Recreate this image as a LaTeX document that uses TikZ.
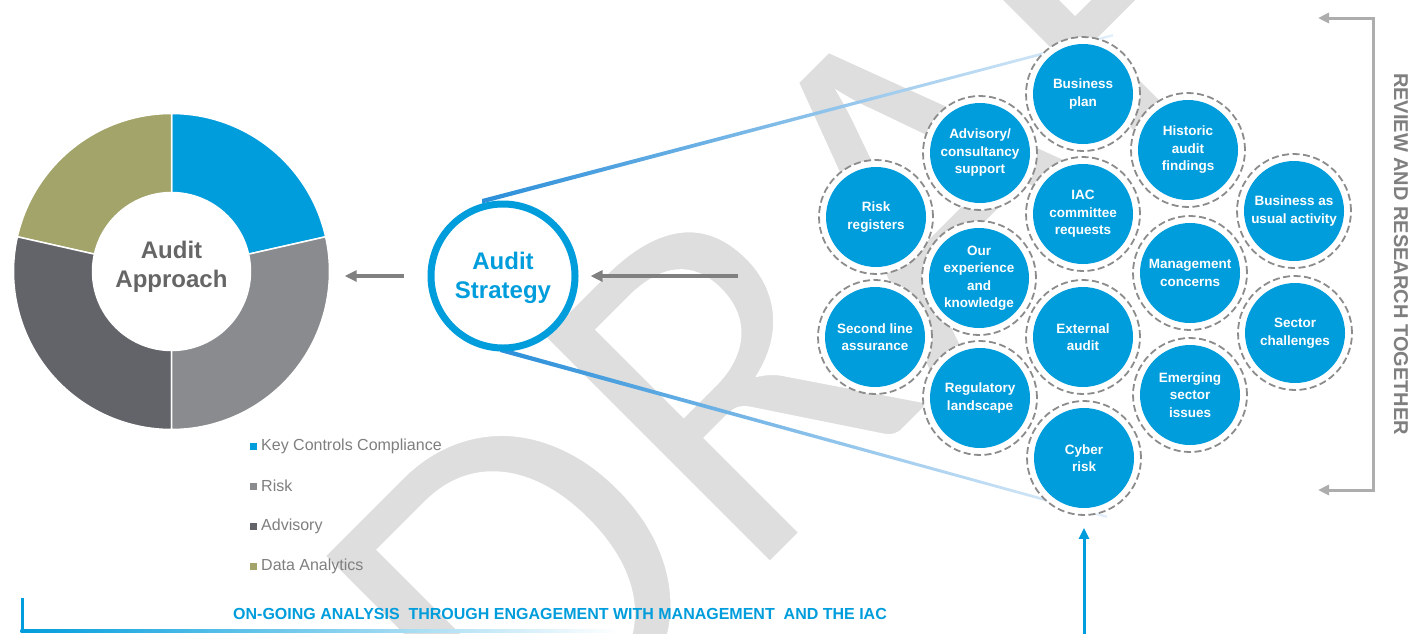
\documentclass[tikz,border=0pt]{standalone}
\usepackage{fontspec}
\setmainfont{Liberation Sans}
\newfontfamily\wmfont{Carlito}
\usetikzlibrary{arrows.meta}
\definecolor{ablue}{HTML}{009DDC}
\definecolor{olivec}{HTML}{A2A46A}
\definecolor{midgray}{HTML}{898B8E}
\definecolor{darkgrayc}{HTML}{626469}
\definecolor{wmgray}{HTML}{DEDEDE}
\definecolor{arrowgray}{HTML}{808080}
\definecolor{brgray}{HTML}{ADADAD}
\definecolor{txtgray}{HTML}{7F7F7F}
\definecolor{ringgray}{HTML}{8C8C8C}
\definecolor{lineblue}{HTML}{2B8FD9}
\definecolor{paleblue}{HTML}{E3EFFA}
\definecolor{apptext}{HTML}{666666}
\begin{document}
\begin{tikzpicture}[x=1pt,y=-1pt,
  wm/.style={anchor=base west, rotate=45, inner sep=0pt, text=wmgray, font=\wmfont\fontsize{502}{502}\selectfont},
  seg/.style={draw=white, line width=1.5pt},
  garrow/.style={draw=arrowgray, line width=3.5pt, -{Triangle[length=12pt,width=11pt]}},
  barrow/.style={draw=ablue, line width=3pt, -{Triangle[length=11pt,width=10pt]}},
  bracket/.style={draw=brgray, line width=3pt, {Triangle[length=11pt,width=10pt]}-{Triangle[length=11pt,width=10pt]}},
  topic/.style={circle, minimum size=114pt, inner sep=0pt, fill=white, draw=ringgray,
    dash pattern=on 7pt off 3.5pt, line width=1.8pt,
    path picture={\fill[ablue] (path picture bounding box.center) circle[radius=50pt];},
    text=white, align=center, font=\bfseries\fontsize{13.5}{17.5}\selectfont},
  bigtxt/.style={align=center, font=\bfseries\fontsize{24}{29.5}\selectfont},
  legsq/.style={minimum size=7pt, inner sep=0pt, draw=none},
  legtxt/.style={anchor=west, inner sep=0pt, text=txtgray, font=\fontsize{16}{19}\selectfont}
]
\useasboundingbox (0,0) rectangle (1410,633);
\fill[white] (0,0) rectangle (1410,633);
% watermark
\begin{scope}
\clip (0,0) rectangle (1410,633);
\node[wm] (draft) at (526,808) {\special{pdf:literal direct q 1 G 2 Tr 5 w}DRAFT\special{pdf:literal direct Q}};
\end{scope}

% donut chart
\begin{scope}[shift={(171.5,271.5)}, yscale=-1]
\path[seg, fill=ablue] (12.7:158) arc[start angle=12.7,end angle=90,radius=158] -- (90:79) arc[start angle=90,end angle=12.7,radius=79] -- cycle;
\path[seg, fill=olivec] (90:158) arc[start angle=90,end angle=167.3,radius=158] -- (167.3:79) arc[start angle=167.3,end angle=90,radius=79] -- cycle;
\path[seg, fill=darkgrayc] (167.3:158) arc[start angle=167.3,end angle=270,radius=158] -- (270:79) arc[start angle=270,end angle=167.3,radius=79] -- cycle;
\path[seg, fill=midgray] (270:158) arc[start angle=270,end angle=372.7,radius=158] -- (372.7:79) arc[start angle=372.7,end angle=270,radius=79] -- cycle;
\end{scope}
\node[circle, minimum size=316pt, inner sep=0pt] (donut) at (171.5,271.5) {};
\node[bigtxt, text=apptext] (approach) at (171.5,267) {Audit\\Approach};

% legend
\node[legsq, fill=ablue] (sq1) at (253.5,446.5) {};
\node[legsq, fill=midgray] (sq2) at (253.5,486.5) {};
\node[legsq, fill=darkgrayc] (sq3) at (253.5,526.5) {};
\node[legsq, fill=olivec] (sq4) at (253.5,566.5) {};
\node[legtxt] (lt1) at (261,446) {Key Controls Compliance};
\node[legtxt] (lt2) at (261,486) {Risk};
\node[legtxt] (lt3) at (261,526) {Advisory};
\node[legtxt] (lt4) at (261,566) {Data Analytics};

% funnel lines
\shade[left color=lineblue, middle color=lineblue!65!paleblue, right color=paleblue] (482,199) -- (1113,34) -- (1113,36.5) -- (482,203.5) -- cycle;
\shade[left color=lineblue, middle color=lineblue!65!paleblue, right color=paleblue] (500,347.5) -- (1107,515.5) -- (1107,518) -- (500,352) -- cycle;

% audit strategy
\node[circle, draw=ablue, line width=7pt, fill=white, minimum size=144pt, inner sep=0pt] (strategy) at (503,276) {};
\node[bigtxt, text=ablue] (strategytxt) at (503,278) {Audit\\Strategy};

% arrows
\draw[garrow, shorten <=24pt, shorten >=15pt] (strategy.west) -- (donut.east |- strategy.west);
\coordinate (feed) at (738,276);
\draw[garrow] (feed) -- ([xshift=12pt]strategy.east);

% cluster of topics
\node[topic] (bplan) at (1083,94) {Business\\plan};
\node[topic] (hist) at (1188,150) {Historic\\audit\\findings};
\node[topic] (advis) at (980,153) {Advisory/\\consultancy\\support};
\node[topic] (bau) at (1294,211) {Business as\\usual activity};
\node[topic] (riskreg) at (876,217) {Risk\\registers};
\node[topic] (iac) at (1083,214) {IAC\\committee\\requests};
\node[topic] (exper) at (979,278) {Our\\experience\\and\\knowledge};
\node[topic] (mgmt) at (1190,273) {Management\\concerns};
\node[topic] (second) at (875,337) {Second line\\assurance};
\node[topic] (ext) at (1083,337) {External\\audit};
\node[topic] (sector) at (1295,333) {Sector\\challenges};
\node[topic] (reg) at (980,398) {Regulatory\\landscape};
\node[topic] (emerg) at (1190,395) {Emerging\\sector\\issues};
\node[topic] (cyber) at (1084,458) {Cyber\\risk};

% up arrow
\coordinate (upfoot) at (1084,640);
\draw[barrow] (upfoot) -- ([yshift=-12pt]cyber.south);

% review bracket
\coordinate (brtop) at (1318,18);
\coordinate (brtr) at (1373,18);
\coordinate (brbr) at (1373,490);
\coordinate (brbot) at (1318,490);
\draw[bracket] (brtop) -- (brtr) -- (brbr) -- (brbot);
\node[rotate=-90, text=txtgray, font=\bfseries\fontsize{20}{22}\selectfont] (review) at (1401,254) {REVIEW AND RESEARCH TOGETHER};

% bottom
\coordinate (ltop) at (22,598);
\coordinate (lcorner) at (22,631);
\draw[draw=ablue, line width=3pt] (ltop) -- (lcorner);
\shade[left color=ablue, right color=white] (20.5,629.5) rectangle (620,632.5);
\node[text=ablue, font=\bfseries\fontsize{16}{18}\selectfont] (ongoing) at (560,614) {ON-GOING ANALYSIS\ \ THROUGH ENGAGEMENT WITH MANAGEMENT\ \ AND THE IAC};
\end{tikzpicture}
\end{document}
